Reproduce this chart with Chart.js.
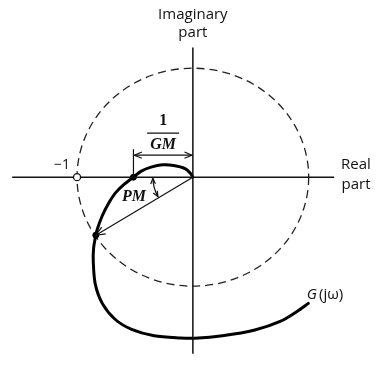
<!DOCTYPE html>
<html>
<head>
<script src="https://cdn.jsdelivr.net/npm/chart.js"></script>
<style>
  body { margin: 0; background: #fff; }
  #wrap { width: 376px; height: 367px; }
</style>
</head>
<body>
<div id="wrap"><canvas id="nyquist" width="376" height="367"></canvas></div>
<script>
// G(jw) locus (unit circle = |G| = 1)
const curveRe = [0, -0.019, -0.067, -0.166, -0.263, -0.361, -0.445, -0.513, -0.599, -0.670, -0.725, -0.782, -0.824, -0.838, -0.857, -0.860, -0.843, -0.782, -0.670, -0.529, -0.334, -0.109, 0.017, 0.255, 0.535, 0.759, 0.899, 0.997];
const curveIm = [0, 0.033, 0.078, 0.107, 0.113, 0.092, 0.056, 0, -0.071, -0.146, -0.235, -0.354, -0.473, -0.533, -0.652, -0.771, -0.979, -1.158, -1.306, -1.396, -1.455, -1.476, -1.478, -1.455, -1.402, -1.321, -1.232, -1.158];
const criticalPoint = [-1, 0];
const gmCrossing = [-0.513, 0];
const pmPoint = [-0.838, -0.533];
const realAxis = [-1.56, 1.22];
const imagAxis = [1.19, -1.62];

const pts = curveRe.map((r, i) => ({ x: r, y: curveIm[i] }));

const annot = {
  id: 'annot',
  beforeDatasetsDraw(chart) {
    const { ctx, scales: { x, y } } = chart;
    const px = v => x.getPixelForValue(v), py = v => y.getPixelForValue(v);
    // unit circle
    ctx.save();
    ctx.setLineDash([8, 5]);
    ctx.lineWidth = 1.3;
    ctx.strokeStyle = '#222';
    ctx.beginPath();
    ctx.ellipse(px(0), py(0), px(1) - px(0), py(0) - py(1), 0, 0, Math.PI * 2);
    ctx.stroke();
    ctx.restore();
  },
  afterDatasetsDraw(chart) {
    const { ctx, scales: { x, y } } = chart;
    const px = v => x.getPixelForValue(v), py = v => y.getPixelForValue(v);
    const ox = px(0), oy = py(0);

    function head(x1, y1, ang, len) {
      ctx.beginPath();
      ctx.moveTo(x1 + len * Math.cos(ang + 0.4), y1 + len * Math.sin(ang + 0.4));
      ctx.lineTo(x1, y1);
      ctx.lineTo(x1 + len * Math.cos(ang - 0.4), y1 + len * Math.sin(ang - 0.4));
      ctx.stroke();
    }

    ctx.save();
    ctx.strokeStyle = '#111';
    ctx.fillStyle = '#111';
    ctx.lineWidth = 1.2;

    // radius to PM point
    const qx = px(pmPoint[0]), qy = py(pmPoint[1]);
    ctx.beginPath(); ctx.moveTo(ox, oy); ctx.lineTo(qx, qy); ctx.stroke();
    head(qx, qy, Math.atan2(oy - qy, ox - qx), 10);

    // 1/GM bracket
    const gx = px(gmCrossing[0]);
    ctx.beginPath(); ctx.moveTo(gx, oy); ctx.lineTo(gx, oy - 28); ctx.stroke();
    const ay = oy - 22;
    ctx.beginPath(); ctx.moveTo(gx + 1, ay); ctx.lineTo(ox - 1, ay); ctx.stroke();
    head(gx + 1, ay, 0, 8);
    head(ox - 1, ay, Math.PI, 8);

    // PM angle arc
    const r = 40;
    const a1 = Math.PI - 0.03, a0 = Math.atan2(qy - oy, qx - ox) + 0.03;
    ctx.beginPath(); ctx.arc(ox, oy, r, a0, a1); ctx.stroke();
    head(ox + r * Math.cos(a1), oy + r * Math.sin(a1), a1 - Math.PI / 2, 6);
    head(ox + r * Math.cos(a0), oy + r * Math.sin(a0), a0 + Math.PI / 2, 6);

    // texts
    ctx.textAlign = 'center';
    ctx.textBaseline = 'middle';
    ctx.font = '15px "Open Sans", sans-serif';
    ctx.fillText('Imaginary', ox, 15);
    ctx.fillText('part', ox, 33);
    ctx.fillText('Real', 356, oy - 12);
    ctx.fillText('part', 356, oy + 8);
    ctx.font = '14px "Open Sans", sans-serif';
    ctx.fillText('\u22121', px(-1) - 15, oy - 12);

    const fx = (gx + ox) / 2;
    ctx.font = 'bold 16px "Liberation Serif", serif';
    ctx.fillText('1', fx, oy - 56);
    ctx.font = 'bold italic 16px "Liberation Serif", serif';
    ctx.fillText('GM', fx, oy - 32);
    ctx.lineWidth = 1.3;
    ctx.beginPath(); ctx.moveTo(fx - 16, oy - 44); ctx.lineTo(fx + 16, oy - 44); ctx.stroke();
    ctx.fillText('PM', 134, oy + 20);

    ctx.font = 'italic 15px "Open Sans", sans-serif';
    ctx.textAlign = 'right';
    ctx.fillText('G', 317, 295);
    ctx.textAlign = 'left';
    ctx.font = '15px "Open Sans", sans-serif';
    ctx.fillText('(j\u03c9)', 319, 295);

    // critical point
    ctx.fillStyle = '#fff';
    ctx.lineWidth = 1.3;
    ctx.beginPath(); ctx.arc(px(criticalPoint[0]), py(criticalPoint[1]), 3.5, 0, Math.PI * 2);
    ctx.fill(); ctx.stroke();
    ctx.restore();
  }
};

new Chart(document.getElementById('nyquist'), {
  type: 'scatter',
  data: {
    datasets: [
      { data: [{ x: realAxis[0], y: 0 }, { x: realAxis[1], y: 0 }], showLine: true, borderColor: '#111', borderWidth: 1.5, pointRadius: 0 },
      { data: [{ x: 0, y: imagAxis[0] }, { x: 0, y: imagAxis[1] }], showLine: true, borderColor: '#111', borderWidth: 1.5, pointRadius: 0 },
      { data: pts, showLine: true, borderColor: '#000', borderWidth: 3, tension: 0.3, pointRadius: 0, borderCapStyle: 'round', borderJoinStyle: 'round' },
      { data: [{ x: gmCrossing[0], y: gmCrossing[1] }, { x: pmPoint[0], y: pmPoint[1] }], showLine: false, pointRadius: 3, backgroundColor: '#000', borderColor: '#000' }
    ]
  },
  options: {
    responsive: false,
    animation: false,
    layout: { padding: 0 },
    plugins: { legend: { display: false }, tooltip: { enabled: false } },
    scales: {
      x: { type: 'linear', display: false, min: -1.622, max: 1.538 },
      y: { type: 'linear', display: false, min: -1.696, max: 1.580 }
    }
  },
  plugins: [annot]
});
</script>
</body>
</html>
